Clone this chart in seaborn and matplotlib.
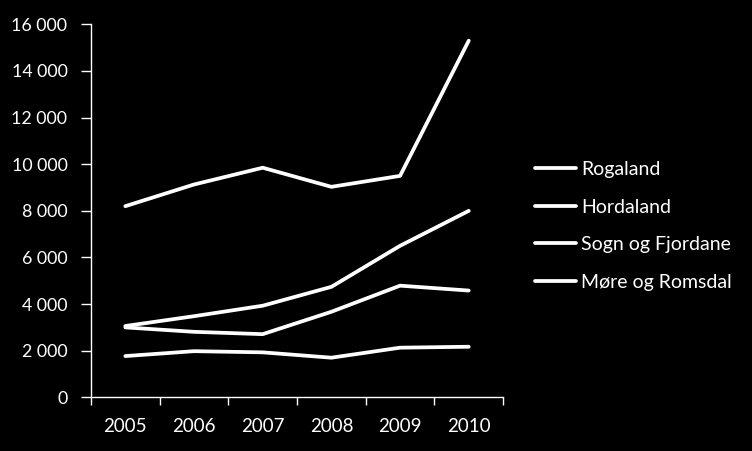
import matplotlib
matplotlib.use("Agg")
import matplotlib.pyplot as plt
import matplotlib.ticker as mticker
import seaborn as sns
import pandas as pd

years = ["2005", "2006", "2007", "2008", "2009", "2010"]
counties = ["Rogaland", "Hordaland", "Sogn og Fjordane", "Møre og Romsdal"]
rogaland = [8200, 9130, 9850, 9030, 9500, 15300]
hordaland = [3060, 3480, 3930, 4740, 6500, 8000]
sogn_og_fjordane = [1770, 1980, 1930, 1700, 2130, 2170]
more_og_romsdal = [3000, 2810, 2710, 3670, 4790, 4580]
y_ticks = [0, 2000, 4000, 6000, 8000, 10000, 12000, 14000, 16000]

series = [rogaland, hordaland, sogn_og_fjordane, more_og_romsdal]
rows = []
for name, vals in zip(counties, series):
    for i, (yr, v) in enumerate(zip(years, vals)):
        rows.append({"idx": i, "year": yr, "county": name, "value": v})
df = pd.DataFrame(rows)

sns.set_theme(style="white")
plt.rcParams["font.family"] = ["Lato", "DejaVu Sans"]

fig = plt.figure(figsize=(7.52, 4.51), dpi=100, facecolor="black")
ax = fig.add_axes([0.121, 0.119, 0.548, 0.827])
ax.set_facecolor("black")

sns.lineplot(data=df, x="idx", y="value", hue="county", hue_order=counties,
             palette=["white"] * 4, linewidth=2.7, ax=ax, legend=False,
             sort=False, solid_capstyle="round")

ax.set_xlim(-0.5, 5.5)
ax.set_ylim(0, 16000)
ax.set_yticks(y_ticks)
ax.yaxis.set_major_formatter(mticker.FuncFormatter(
    lambda v, p: f"{int(v):,}".replace(",", " ")))

ax.set_xticks([i - 0.5 for i in range(len(years) + 1)])
ax.set_xticklabels([])
ax.set_xticks(range(len(years)), minor=True)
ax.set_xticklabels(years, minor=True)
ax.tick_params(axis="x", which="major", direction="out", length=6, width=1, color="white", bottom=True)
ax.tick_params(axis="x", which="minor", length=0, pad=15, labelsize=13.5, labelcolor="white")
ax.tick_params(axis="y", direction="out", length=7, width=1, color="white", left=True,
               labelsize=12.8, labelcolor="white", pad=10)

for s in ["top", "right"]:
    ax.spines[s].set_visible(False)
for s in ["left", "bottom"]:
    ax.spines[s].set_color("white")
    ax.spines[s].set_linewidth(1)

ax.set_xlabel("")
ax.set_ylabel("")

from matplotlib.lines import Line2D
handles = [Line2D([0], [0], color="white", linewidth=2.7) for _ in counties]
leg = ax.legend(handles, counties, loc="upper left", bbox_to_anchor=(0.711, 0.643),
                bbox_transform=fig.transFigure, frameon=False, fontsize=14,
                handlelength=2.15, handletextpad=0.25, labelspacing=1.06,
                borderaxespad=0, borderpad=0)
for t in leg.get_texts():
    t.set_color("white")

fig.savefig("out.png", dpi=100, facecolor="black")
